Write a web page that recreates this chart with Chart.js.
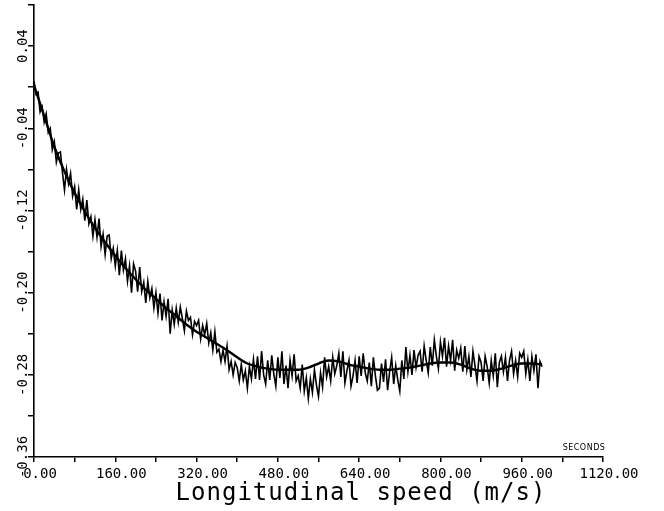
<!DOCTYPE html>
<html>
<head>
<meta charset="utf-8">
<script src="https://cdn.jsdelivr.net/npm/chart.js@4.4.1/dist/chart.umd.min.js"></script>
<style>
  html, body { margin: 0; padding: 0; background: #fff; }
  canvas { display: block; }
</style>
</head>
<body>
<canvas id="chart" width="664" height="511"></canvas>
<script>
// axis ranges and labels
const xMin = 0, xMax = 1120, xStep = 80;
const yMin = -0.36, yMax = 0.08, yStep = 0.04;
const xTitle = "Longitudinal speed (m/s)";
const cornerNote = "SECONDS";

// raw (noisy) trace, one sample every 4 units from 0 to 1000
const rawStep = 4;
const rawValues = [
  0.006, -0.007, -0.005, -0.024, -0.019, -0.034, -0.026, -0.044, -0.040, -0.061,
  -0.053, -0.073, -0.064, -0.063, -0.083, -0.100, -0.080, -0.094, -0.084, -0.106,
  -0.097, -0.119, -0.100, -0.119, -0.109, -0.130, -0.110, -0.133, -0.126, -0.145,
  -0.129, -0.146, -0.128, -0.155, -0.143, -0.163, -0.145, -0.144, -0.167, -0.157,
  -0.174, -0.159, -0.183, -0.159, -0.178, -0.167, -0.189, -0.174, -0.200, -0.172,
  -0.179, -0.199, -0.175, -0.199, -0.190, -0.210, -0.189, -0.205, -0.196, -0.215,
  -0.200, -0.220, -0.201, -0.227, -0.209, -0.223, -0.206, -0.240, -0.217, -0.231,
  -0.215, -0.229, -0.214, -0.225, -0.237, -0.218, -0.227, -0.224, -0.241, -0.228,
  -0.232, -0.227, -0.245, -0.232, -0.241, -0.230, -0.249, -0.239, -0.256, -0.238,
  -0.258, -0.255, -0.267, -0.256, -0.267, -0.252, -0.275, -0.267, -0.280, -0.268,
  -0.273, -0.286, -0.270, -0.285, -0.276, -0.293, -0.272, -0.284, -0.265, -0.284,
  -0.262, -0.285, -0.257, -0.280, -0.289, -0.266, -0.285, -0.261, -0.279, -0.291,
  -0.263, -0.283, -0.257, -0.289, -0.271, -0.293, -0.266, -0.281, -0.260, -0.286,
  -0.281, -0.293, -0.270, -0.296, -0.283, -0.303, -0.284, -0.297, -0.275, -0.290,
  -0.301, -0.278, -0.292, -0.263, -0.282, -0.272, -0.286, -0.263, -0.279, -0.271,
  -0.259, -0.282, -0.257, -0.288, -0.276, -0.266, -0.291, -0.281, -0.266, -0.288,
  -0.262, -0.281, -0.259, -0.278, -0.286, -0.268, -0.291, -0.263, -0.281, -0.295,
  -0.293, -0.269, -0.287, -0.265, -0.295, -0.277, -0.263, -0.289, -0.271, -0.285,
  -0.296, -0.266, -0.284, -0.253, -0.277, -0.261, -0.280, -0.256, -0.273, -0.261,
  -0.257, -0.277, -0.252, -0.266, -0.278, -0.253, -0.271, -0.246, -0.262, -0.274,
  -0.248, -0.262, -0.244, -0.272, -0.252, -0.266, -0.246, -0.276, -0.256, -0.264,
  -0.254, -0.277, -0.252, -0.275, -0.262, -0.282, -0.257, -0.271, -0.286, -0.262,
  -0.268, -0.286, -0.262, -0.272, -0.288, -0.266, -0.281, -0.259, -0.292, -0.268,
  -0.262, -0.277, -0.263, -0.286, -0.266, -0.257, -0.279, -0.266, -0.282, -0.259,
  -0.263, -0.257, -0.279, -0.265, -0.286, -0.262, -0.276, -0.260, -0.293, -0.267,
  -0.272
];

// smoothed trace, one sample every 20 units from 0 to 1000
const smoothStep = 20;
const smoothValues = [
  0.002, -0.028, -0.058, -0.082, -0.103, -0.121, -0.137, -0.151, -0.164, -0.176,
  -0.187, -0.197, -0.206, -0.215, -0.223, -0.231, -0.238, -0.244, -0.250, -0.256,
  -0.263, -0.269, -0.272, -0.274, -0.275, -0.275, -0.275, -0.273, -0.269, -0.266,
  -0.267, -0.270, -0.272, -0.274, -0.275, -0.275, -0.274, -0.273, -0.271, -0.269,
  -0.268, -0.268, -0.270, -0.274, -0.276, -0.276, -0.274, -0.271, -0.269, -0.269,
  -0.270
];

const rawPoints = rawValues.map((v, i) => ({ x: i * rawStep, y: v }));
const smoothPoints = smoothValues.map((v, i) => ({ x: i * smoothStep, y: v }));

const mono = '"DejaVu Sans Mono", monospace';

const notesPlugin = {
  id: "notes",
  afterDraw(chart) {
    const c = chart.ctx;
    c.save();
    c.fillStyle = "#000";
    c.textAlign = "center";
    c.textBaseline = "alphabetic";
    c.font = "24px " + mono;
    c.letterSpacing = "1px";
    c.fillText(xTitle, 361, 500);
    c.font = "8px 'DejaVu Sans'";
    c.letterSpacing = "0.5px";
    c.fillText(cornerNote, 584, 450);
    c.restore();
  }
};

new Chart(document.getElementById("chart").getContext("2d"), {
  type: "line",
  data: {
    datasets: [
      {
        data: smoothPoints,
        borderColor: "#000",
        borderWidth: 2.4,
        pointRadius: 0,
        cubicInterpolationMode: "monotone",
        fill: false
      },
      {
        data: rawPoints,
        borderColor: "#000",
        borderWidth: 1.6,
        pointRadius: 0,
        tension: 0,
        fill: false
      }
    ]
  },
  options: {
    responsive: false,
    animation: false,
    events: [],
    layout: { padding: { top: 5, right: 61, left: 0, bottom: 0 } },
    plugins: { legend: { display: false }, tooltip: { enabled: false } },
    scales: {
      x: {
        type: "linear",
        min: xMin,
        max: xMax,
        afterFit: s => { s.height = 54; },
        ticks: {
          stepSize: xStep,
          autoSkip: false,
          maxRotation: 0,
          padding: 4,
          labelOffset: 6,
          color: "#000",
          font: { family: mono, size: 14 },
          callback: (v, i) => (i % 2 === 0 ? v.toFixed(2) : "")
        },
        grid: { drawOnChartArea: false, tickLength: 5, color: "#000", lineWidth: 1.5 },
        border: { color: "#000", width: 1.6 }
      },
      y: {
        min: yMin,
        max: yMax,
        afterFit: s => { s.width = 34; },
        ticks: {
          stepSize: yStep,
          autoSkip: false,
          minRotation: 90,
          maxRotation: 90,
          crossAlign: "center",
          padding: -16,
          color: "#000",
          font: { family: mono, size: 14 },
          callback: (v, i) => (i % 2 === 0 ? v.toFixed(2) : "")
        },
        grid: { drawOnChartArea: false, tickLength: 6, color: "#000", lineWidth: 1.5 },
        border: { color: "#000", width: 1.6 }
      }
    }
  },
  plugins: [notesPlugin]
});
</script>
</body>
</html>
